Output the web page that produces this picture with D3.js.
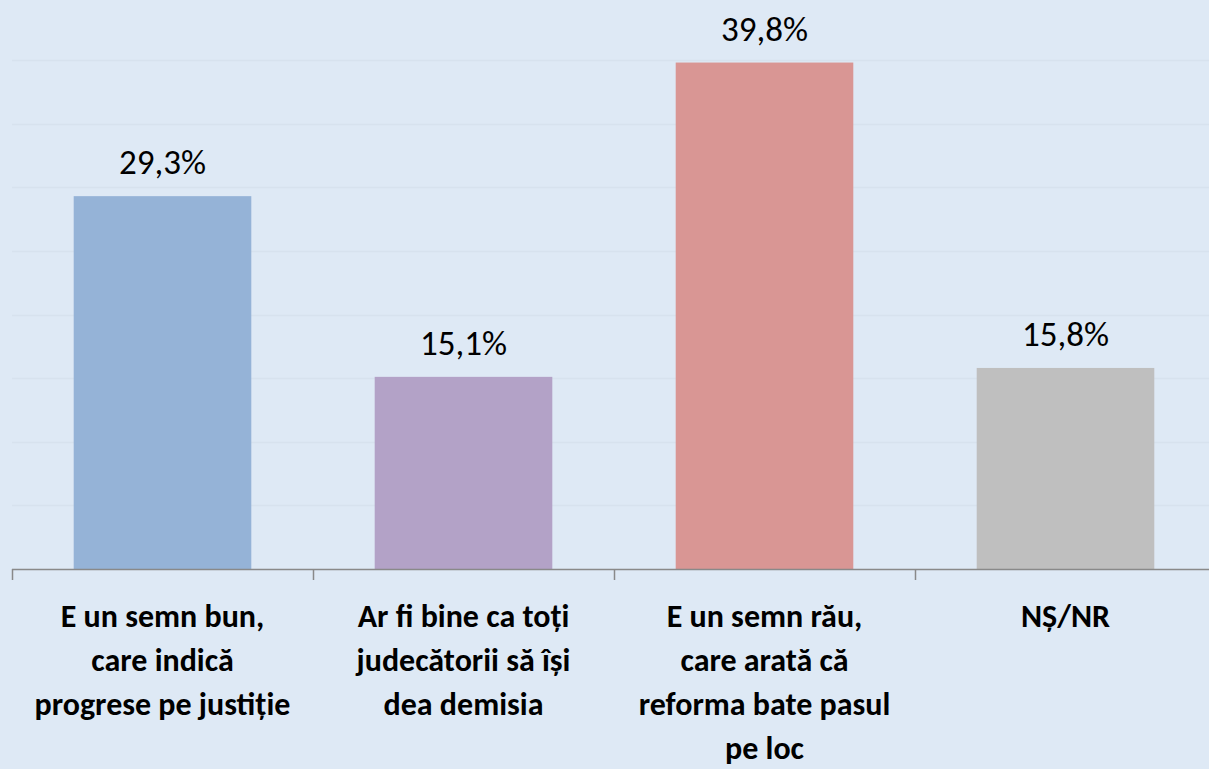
<!DOCTYPE html>
<html>
<head>
<meta charset="utf-8">
<script src="https://cdn.jsdelivr.net/npm/d3@7"></script>
<style>
  html, body { margin: 0; padding: 0; background: #dee9f5; }
  svg { display: block; font-family: Carlito, Calibri, Lato, sans-serif; }
</style>
</head>
<body>
<div id="chart"></div>
<script>
const categories = [
  ["E un semn bun,", "care indică", "progrese pe justiție"],
  ["Ar fi bine ca toți", "judecătorii să își", "dea demisia"],
  ["E un semn rău,", "care arată că", "reforma bate pasul", "pe loc"],
  ["NȘ/NR"]
];
const values = [29.3, 15.1, 39.8, 15.8];
const colors = ["#95b3d7", "#b3a2c7", "#d99694", "#bfbfbf"];
const gridTicks = [5, 10, 15, 20, 25, 30, 35, 40];

const width = 1209, height = 769;
const left = 12, right = 1216, baseY = 569, topY = 60;

const svg = d3.select("#chart")
  .append("svg")
  .attr("width", width)
  .attr("height", height);

svg.append("rect")
  .attr("width", width).attr("height", height)
  .attr("fill", "#dee9f5");

const ids = categories.map((c, i) => i);

const x = d3.scaleBand()
  .domain(ids)
  .range([left, right])
  .paddingInner(0.41)
  .paddingOuter(0.205);

const y = d3.scaleLinear()
  .domain([0, 40])
  .range([baseY, topY]);

// gridlines
svg.append("g")
  .selectAll("line")
  .data(gridTicks)
  .enter()
  .append("line")
  .attr("x1", left)
  .attr("x2", width)
  .attr("y1", d => Math.round(y(d)) + 0.5)
  .attr("y2", d => Math.round(y(d)) + 0.5)
  .attr("stroke", "#d7e2ee")
  .attr("stroke-width", 1.5);

// bars
svg.append("g")
  .selectAll("rect")
  .data(values)
  .enter()
  .append("rect")
  .attr("x", (d, i) => x(i))
  .attr("width", x.bandwidth())
  .attr("y", d => y(d))
  .attr("height", d => y(0) - y(d))
  .attr("fill", (d, i) => colors[i]);

// value labels
svg.append("g")
  .selectAll("text")
  .data(values)
  .enter()
  .append("text")
  .attr("x", (d, i) => x(i) + x.bandwidth() / 2)
  .attr("y", d => y(d) - 22)
  .attr("text-anchor", "middle")
  .style("font-size", "35px")
  .style("fill", "#000")
  .text(d => d.toFixed(1).replace(".", ",") + "%");

// axis line + ticks at band boundaries
const step = x.step();
const axis = svg.append("g");
axis.append("line")
  .attr("x1", left).attr("x2", width)
  .attr("y1", baseY + 0.5).attr("y2", baseY + 0.5)
  .attr("stroke", "#898989")
  .attr("stroke-width", 1.5);
axis.selectAll("line.tick")
  .data(ids)
  .enter()
  .append("line")
  .attr("class", "tick")
  .attr("x1", i => Math.round(x(i) - step * x.paddingInner() / 2) + 0.5)
  .attr("x2", i => Math.round(x(i) - step * x.paddingInner() / 2) + 0.5)
  .attr("y1", baseY)
  .attr("y2", baseY + 11)
  .attr("stroke", "#898989")
  .attr("stroke-width", 1.5);

// category labels
const cat = svg.append("g")
  .selectAll("text")
  .data(categories)
  .enter()
  .append("text")
  .attr("x", (d, i) => x(i) + x.bandwidth() / 2)
  .attr("y", 627)
  .attr("text-anchor", "middle")
  .style("font-size", "32px")
  .style("font-weight", "bold")
  .style("fill", "#000");

cat.selectAll("tspan")
  .data((d, i) => d.map(t => ({ t, i })))
  .enter()
  .append("tspan")
  .attr("x", d => x(d.i) + x.bandwidth() / 2)
  .attr("dy", (d, j) => j === 0 ? 0 : 44)
  .text(d => d.t);
</script>
</body>
</html>
